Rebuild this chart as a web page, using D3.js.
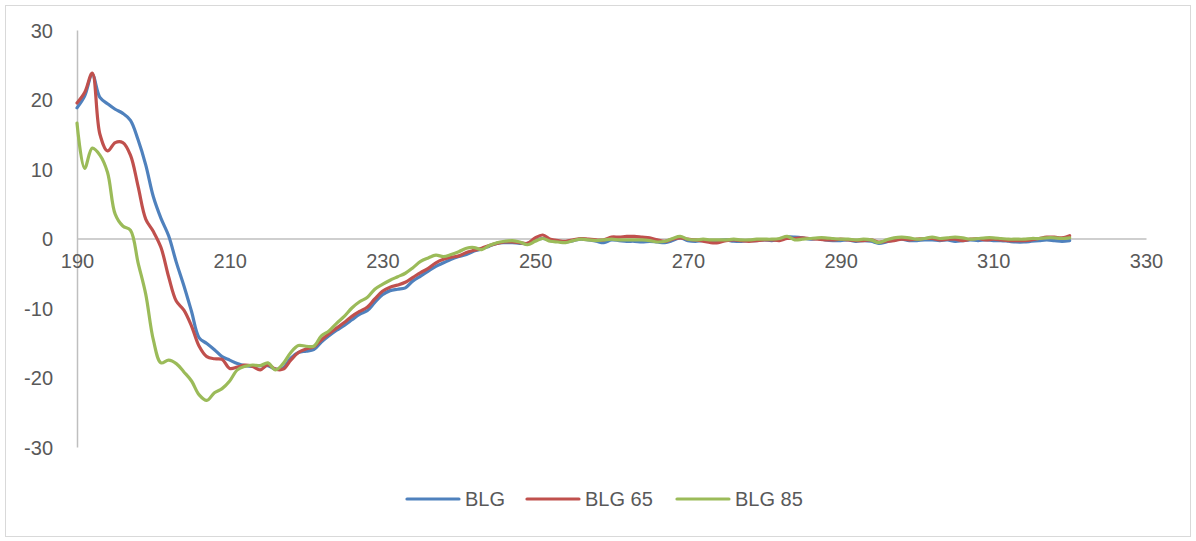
<!DOCTYPE html>
<html>
<head>
<meta charset="utf-8">
<script src="https://cdn.jsdelivr.net/npm/d3@7"></script>
<style>
  html, body { margin: 0; padding: 0; background: #fff; }
  svg { display: block; }
</style>
</head>
<body>
<svg id="chart" width="1196" height="541"></svg>
<script>
// ---- DATA ----
const wavelengthStart = 190;
const wavelengthEnd = 320;
const seriesNames = ["BLG", "BLG 65", "BLG 85"];
const xTicks = [190, 210, 230, 250, 270, 290, 310, 330];
const yTicks = [30, 20, 10, 0, -10, -20, -30];

const blg = [
  18.8, 20.5, 23.6, 20.3, 19.4, 18.6, 18.0, 17.0, 14.2, 10.6,
  6.0, 2.9, 0.4, -3.4, -6.8, -10.5, -14.3, -15.1, -16.0, -17.0,
  -17.5, -18.0, -18.3, -18.4, -18.3, -18.3, -18.8, -18.6, -17.2, -16.4,
  -16.2, -16.0, -14.9, -14.0, -13.2, -12.5, -11.7, -10.9, -10.4, -9.2,
  -8.1, -7.5, -7.3, -7.1, -6.1, -5.4, -4.7, -4.0, -3.5, -3.0,
  -2.6, -2.3, -1.8, -1.5, -1.1, -0.7, -0.6, -0.6, -0.7, -0.7,
  -0.3, 0.0, -0.3, -0.4, -0.5, -0.3, -0.1, -0.2, -0.4, -0.6,
  -0.2, -0.3, -0.4, -0.4, -0.5, -0.4, -0.5, -0.6, -0.3, 0.1,
  -0.3, -0.4, -0.3, -0.4, -0.3, -0.2, -0.4, -0.4, -0.3, -0.3,
  -0.2, -0.3, -0.1, 0.2, 0.2, 0.1, -0.1, 0.0, -0.2, -0.3,
  -0.3, -0.2, -0.4, -0.3, -0.4, -0.7, -0.5, -0.2, -0.1, -0.3,
  -0.3, -0.2, -0.2, -0.3, -0.2, -0.4, -0.3, -0.2, -0.3, -0.2,
  -0.3, -0.3, -0.4, -0.5, -0.5, -0.4, -0.3, -0.2, -0.3, -0.4,
  -0.3
];
const blg65 = [
  19.5, 21.0, 23.8, 15.0, 12.6, 13.8, 13.8, 12.0, 7.5, 2.8,
  1.0, -1.3, -5.5, -9.0, -10.3, -12.6, -15.5, -17.0, -17.3, -17.4,
  -18.7, -18.5, -18.2, -18.4, -18.9, -18.2, -18.8, -18.8, -17.5, -16.4,
  -15.9, -15.6, -14.6, -13.7, -12.9, -12.1, -11.2, -10.5, -9.9, -8.7,
  -7.6, -7.0, -6.7, -6.3, -5.6, -4.9, -4.3, -3.5, -3.0, -2.7,
  -2.5, -2.0, -1.7, -1.4, -1.0, -0.7, -0.5, -0.5, -0.6, -0.7,
  0.1, 0.5, -0.1, -0.3, -0.4, -0.2, 0.0, -0.1, -0.2, -0.2,
  0.2, 0.2, 0.3, 0.3, 0.2, 0.1, -0.2, -0.4, -0.1, 0.1,
  -0.1, -0.2, -0.4, -0.6, -0.6, -0.3, -0.2, -0.3, -0.4, -0.3,
  -0.2, -0.2, -0.3, 0.0, 0.0, 0.1, 0.0, -0.1, -0.2, -0.2,
  -0.1, -0.2, -0.3, -0.3, -0.2, -0.5, -0.4, -0.3, -0.1, -0.2,
  -0.1, 0.0, 0.0, -0.2, -0.1, -0.1, -0.3, -0.1, 0.0, -0.2,
  -0.1, -0.2, -0.3, -0.3, -0.3, -0.2, 0.0, 0.2, 0.2, 0.1,
  0.4
];
const blg85 = [
  16.6, 10.1, 13.0, 12.0, 9.5, 3.5, 1.8, 1.2, -3.5, -8.0,
  -14.6, -17.9, -17.5, -18.0, -19.2, -20.5, -22.5, -23.3, -22.2, -21.6,
  -20.5, -18.9, -18.4, -18.2, -18.3, -17.9, -18.9, -18.0, -16.4, -15.4,
  -15.5, -15.5, -14.0, -13.3, -12.2, -11.2, -10.0, -9.1, -8.5, -7.3,
  -6.6, -6.0, -5.5, -5.0, -4.2, -3.3, -2.8, -2.4, -2.6, -2.3,
  -1.9, -1.4, -1.3, -1.6, -1.0, -0.6, -0.4, -0.3, -0.5, -0.9,
  -0.4, 0.0, -0.4, -0.5, -0.6, -0.3, -0.1, -0.2, -0.3, -0.2,
  -0.1, -0.2, -0.2, -0.2, -0.2, -0.3, -0.5, -0.4, 0.0, 0.3,
  -0.1, -0.2, -0.1, -0.2, -0.2, -0.2, -0.1, -0.2, -0.2, -0.1,
  -0.1, -0.1, 0.0, 0.3, -0.2, -0.1, 0.0, 0.1, 0.1, 0.0,
  -0.1, -0.1, -0.2, -0.1, -0.2, -0.6, -0.2, 0.1, 0.2, 0.1,
  -0.1, 0.0, 0.2, 0.0, 0.1, 0.2, 0.1, -0.1, 0.0, 0.1,
  0.1, 0.0, -0.1, -0.1, -0.1, 0.0, 0.0, 0.1, 0.1, 0.0,
  0.1
];

const colors = ["#4F81BD", "#C0504D", "#9BBB59"];

// ---- CHART ----
const svg = d3.select("#chart");
const font = "'Liberation Sans', Arial, sans-serif";
const textColor = "#595959";

svg.append("rect")
  .attr("x", 5.5).attr("y", 5.5)
  .attr("width", 1185).attr("height", 531)
  .attr("fill", "#fff").attr("stroke", "#d9d9d9").attr("stroke-width", 1);

const x = d3.scaleLinear().domain([190, 330]).range([77, 1146]);
const y = d3.scaleLinear().domain([-30, 30]).range([447, 30]);

// Axes
const yAxis = d3.axisLeft(y).tickValues(yTicks).tickSize(0).tickPadding(24).tickFormat(d => String(d));
const gy = svg.append("g").attr("transform", `translate(${x(190)},0)`).call(yAxis);
gy.select(".domain").attr("stroke", "#bfbfbf").attr("stroke-width", 1.5);
gy.selectAll("text").attr("font-family", font).attr("font-size", 20).attr("fill", textColor).attr("dy", "0.36em");

const xAxis = d3.axisBottom(x).tickValues(xTicks).tickSize(0).tickPadding(24).tickFormat(d => String(d));
const gx = svg.append("g").attr("transform", `translate(0,${y(0)})`).call(xAxis);
gx.select(".domain").attr("stroke", "#bfbfbf").attr("stroke-width", 1.5);
gx.selectAll("text").attr("font-family", font).attr("font-size", 20).attr("fill", textColor).attr("dy", "0.25em");

// Lines
const allSeries = [blg, blg65, blg85];
const line = d3.line()
  .x((d, i) => x(wavelengthStart + i))
  .y(d => y(d))
  .curve(d3.curveCatmullRom.alpha(0.5));

allSeries.forEach((vals, k) => {
  svg.append("path")
    .datum(vals)
    .attr("fill", "none")
    .attr("stroke", colors[k])
    .attr("stroke-width", 3.2)
    .attr("stroke-linejoin", "round")
    .attr("stroke-linecap", "round")
    .attr("d", line);
});

// Legend
const legendItems = [
  { name: seriesNames[0], x0: 407 },
  { name: seriesNames[1], x0: 527 },
  { name: seriesNames[2], x0: 677 }
];
const ly = 499;
legendItems.forEach((it, k) => {
  svg.append("line")
    .attr("x1", it.x0).attr("x2", it.x0 + 52)
    .attr("y1", ly).attr("y2", ly)
    .attr("stroke", colors[k]).attr("stroke-width", 3.2).attr("stroke-linecap", "round");
  svg.append("text")
    .attr("x", it.x0 + 58).attr("y", ly)
    .attr("dy", "0.36em")
    .attr("font-family", font).attr("font-size", 20).attr("fill", textColor)
    .text(it.name);
});
</script>
</body>
</html>
